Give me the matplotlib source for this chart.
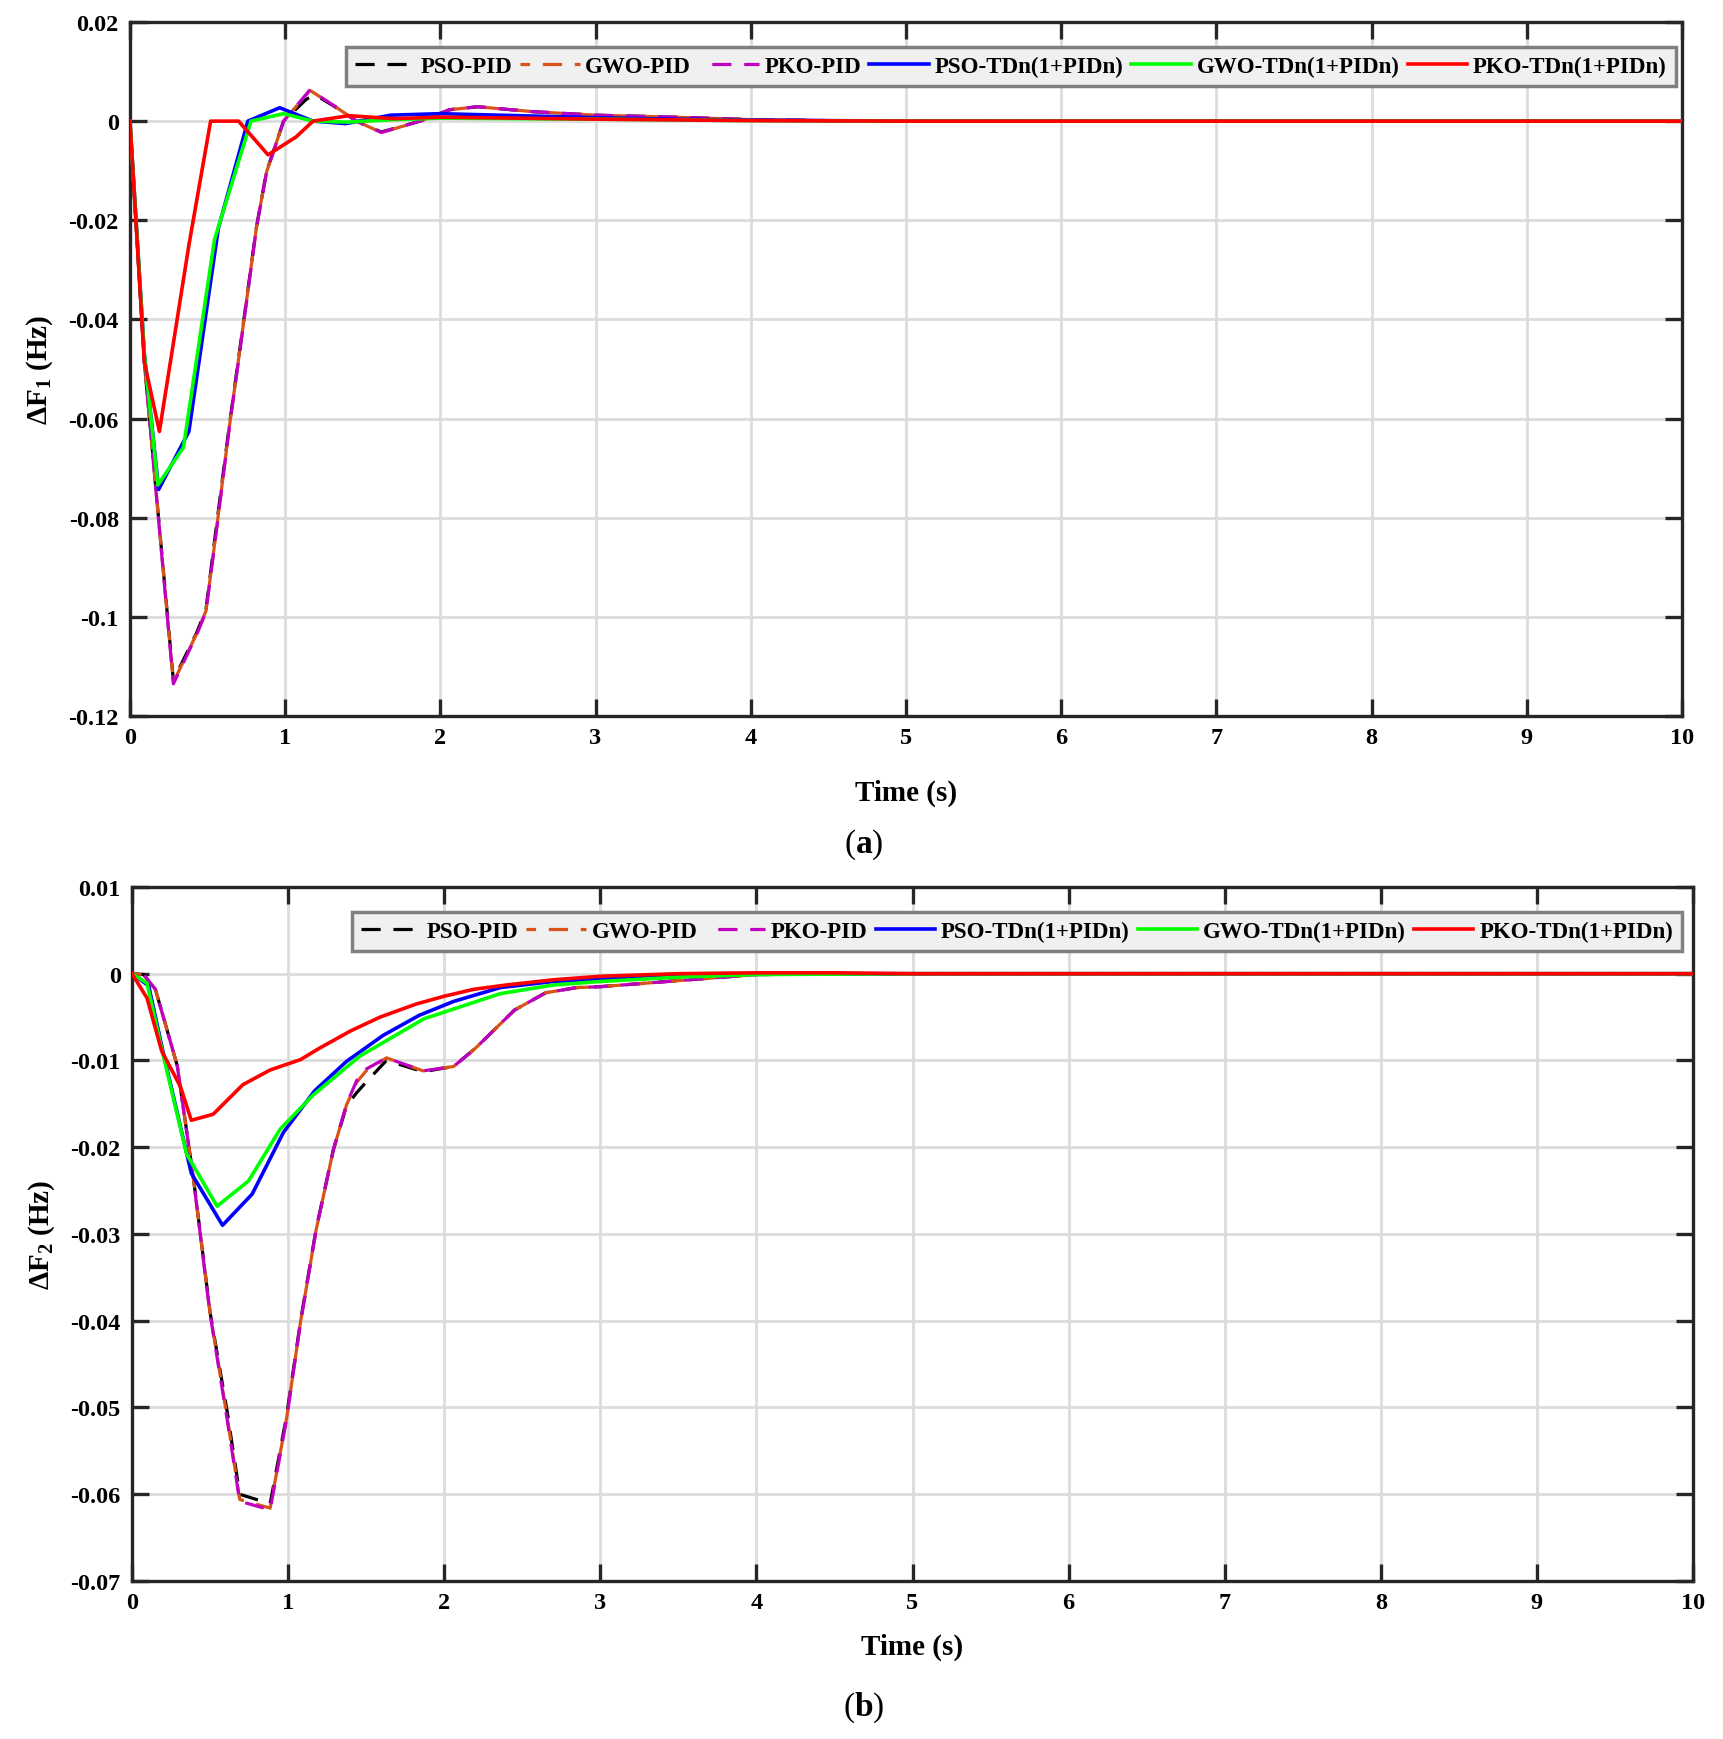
#Frequency deviation responses, two areas, PID vs TDn(1+PIDn)

import matplotlib
matplotlib.use("Agg")
import matplotlib.pyplot as plt
import numpy as np

#font setup, bold serif like the MATLAB export
plt.rcParams['font.family'] = ['Liberation Serif', 'DejaVu Serif']
plt.rcParams['font.weight'] = 'bold'
plt.rcParams['axes.unicode_minus'] = False
plt.rcParams['mathtext.fontset'] = 'custom'
plt.rcParams['mathtext.rm'] = 'Liberation Serif'
plt.rcParams['mathtext.bf'] = 'Liberation Serif:bold'

#legend names
labels = ['PSO-PID', 'GWO-PID', 'PKO-PID',
          'PSO-TDn(1+PIDn)', 'GWO-TDn(1+PIDn)', 'PKO-TDn(1+PIDn)']

#x axis
x_ticks = [0, 1, 2, 3, 4, 5, 6, 7, 8, 9, 10]

# ---------- (a) delta F1 ----------
a_yticks = [0.02, 0, -0.02, -0.04, -0.06, -0.08, -0.1, -0.12]
a_ylabels = ['0.02', '0', '-0.02', '-0.04', '-0.06', '-0.08', '-0.1', '-0.12']

a_t_pso_pid = [0, 0.093, 0.28, 0.43, 0.49, 0.556, 0.64, 0.73, 0.815, 0.88, 0.99, 1.14, 1.2, 1.31,
               1.46, 1.62, 1.87, 2.06, 2.24, 2.6, 3.0, 3.5, 4.0, 4.5, 5.0, 10]
a_pso_pid = [0, -0.0486, -0.1128, -0.1032, -0.0985, -0.082, -0.0615, -0.041, -0.0214, -0.0102, 0,
             0.0045, 0.0052, 0.0031, 0, -0.0022, 0, 0.0023, 0.0029, 0.0019, 0.0012, 0.0008,
             0.0003, 0.0001, 0, 0]
a_t_gwo_pid = [0, 0.093, 0.28, 0.43, 0.49, 0.556, 0.64, 0.73, 0.815, 0.88, 0.99, 1.16, 1.31,
               1.46, 1.62, 1.87, 2.06, 2.24, 2.6, 3.0, 3.5, 4.0, 4.5, 5.0, 10]
a_gwo_pid = [0, -0.0486, -0.1132, -0.1034, -0.0988, -0.0828, -0.0618, -0.0412, -0.0215, -0.0103, 0,
             0.0062, 0.0032, 0, -0.0023, 0, 0.0023, 0.0029, 0.0019, 0.0012, 0.0008, 0.0003,
             0.0001, 0, 0]
a_t_pko_pid = [0, 0.093, 0.28, 0.43, 0.49, 0.556, 0.64, 0.73, 0.815, 0.88, 0.99, 1.16, 1.31,
               1.46, 1.62, 1.87, 2.06, 2.24, 2.6, 3.0, 3.5, 4.0, 4.5, 5.0, 10]
a_pko_pid = [0, -0.0486, -0.1135, -0.1036, -0.099, -0.083, -0.062, -0.0414, -0.0216, -0.0104, 0,
             0.0063, 0.0032, 0, -0.0023, 0, 0.0023, 0.0029, 0.0019, 0.0012, 0.0008, 0.0003,
             0.0001, 0, 0]
a_t_pso_td = [0, 0.093, 0.185, 0.38, 0.57, 0.76, 0.965, 1.18, 1.39, 1.68, 2.0, 2.5, 3.0, 3.5,
              4.0, 5.0, 10]
a_pso_td = [0, -0.047, -0.0743, -0.0626, -0.0216, 0, 0.0027, 0, -0.0005, 0.0012, 0.0015,
            0.0011, 0.0007, 0.0004, 0.0002, 0, 0]
a_t_gwo_td = [0, 0.093, 0.18, 0.345, 0.545, 0.78, 0.99, 1.18, 1.4, 1.7, 2.0, 3.0, 4.0, 5.0, 10]
a_gwo_td = [0, -0.047, -0.0734, -0.0658, -0.0239, 0, 0.0015, 0, -0.0002, 0.0003, 0.0006,
            0.0004, 0.0001, 0, 0]
a_t_pko_td = [0, 0.093, 0.19, 0.38, 0.52, 0.70, 0.89, 1.07, 1.18, 1.41, 1.7, 2.0, 3.0, 4.0,
              5.0, 10]
a_pko_td = [0, -0.0486, -0.0626, -0.025, 0, 0, -0.0068, -0.0032, 0, 0.0011, 0.0005, 0.0008,
            0.0004, 0.0001, 0, 0]

# ---------- (b) delta F2 ----------
b_yticks = [0.01, 0, -0.01, -0.02, -0.03, -0.04, -0.05, -0.06, -0.07]
b_ylabels = ['0.01', '0', '-0.01', '-0.02', '-0.03', '-0.04', '-0.05', '-0.06', '-0.07']

b_t_pid = [0, 0.075, 0.15, 0.29, 0.394, 0.5, 0.61, 0.69, 0.885, 0.99, 1.08, 1.18, 1.29, 1.375,
           1.44, 1.5, 1.63, 1.865, 2.06, 2.2, 2.45, 2.65, 2.85, 3.0, 3.5, 4.0, 5.0, 10]
b_pso_pid = [0, -0.0001, -0.0018, -0.0106, -0.0236, -0.039, -0.0505, -0.0600, -0.0611, -0.051,
             -0.0400, -0.0294, -0.0203, -0.0152, -0.0137, -0.0125, -0.0100, -0.0113, -0.0107,
             -0.0086, -0.0042, -0.0022, -0.0016, -0.0015, -0.0008, -0.0001, 0, 0]
b_gwo_pid = [0, -0.0001, -0.0018, -0.0106, -0.0237, -0.0391, -0.0512, -0.0606, -0.0616, -0.0513,
             -0.0401, -0.0295, -0.0203, -0.0151, -0.0125, -0.0112, -0.0097, -0.0112, -0.0107,
             -0.0086, -0.0042, -0.0022, -0.0016, -0.0015, -0.0008, -0.0001, 0, 0]
b_pko_pid = [0, -0.0001, -0.0018, -0.0106, -0.0237, -0.0392, -0.0514, -0.0608, -0.0618, -0.0514,
             -0.0402, -0.0295, -0.0203, -0.015, -0.0123, -0.011, -0.0097, -0.0112, -0.0107,
             -0.0086, -0.0042, -0.0022, -0.0016, -0.0015, -0.0008, -0.0001, 0, 0]
b_t_pso_td = [0, 0.107, 0.2, 0.38, 0.58, 0.77, 0.97, 1.17, 1.375, 1.61, 1.84, 2.06, 2.36, 2.7,
              3.0, 3.5, 4.0, 5.0, 10]
b_pso_td = [0, -0.0014, -0.0091, -0.023, -0.029, -0.0254, -0.0183, -0.0135, -0.0101, -0.0071,
            -0.0048, -0.0032, -0.0016, -0.0009, -0.0006, -0.0002, 0, 0, 0]
b_t_gwo_td = [0, 0.096, 0.2, 0.35, 0.545, 0.746, 0.95, 1.16, 1.46, 1.87, 2.36, 2.7, 3.0, 3.5,
              4.0, 5.0, 10]
b_gwo_td = [0, -0.0011, -0.0094, -0.0208, -0.0268, -0.0239, -0.0179, -0.014, -0.0095, -0.0052,
            -0.0023, -0.0013, -0.0009, -0.0004, -0.0001, 0, 0]
b_t_pko_td = [0, 0.096, 0.19, 0.31, 0.38, 0.52, 0.71, 0.885, 1.08, 1.2, 1.4, 1.59, 1.82, 2.0,
              2.19, 2.4, 2.7, 3.0, 3.5, 4.0, 4.5, 5.0, 10]
b_pko_td = [0, -0.0028, -0.0089, -0.013, -0.0169, -0.0162, -0.0128, -0.0111, -0.0099, -0.0086,
            -0.0066, -0.005, -0.0035, -0.0026, -0.0018, -0.0013, -0.0007, -0.0003, 0, 0.0001,
            0.0001, 0, 0]

#colors (MATLAB-ish)
colors = ['black', '#D95319', '#C000C0', '#0000FF', '#00FF00', '#FF0000']
dash = (6, 4)
styles = [(0, dash), (3, dash), (6, dash), '-', '-', '-']
spine_col = '#262626'


def style_axes(ax, yticks, ylabels, ylim, ylabel, xpad):
    ax.set_xlim(0, 10)
    ax.set_ylim(*ylim)
    ax.set_xticks(x_ticks)
    ax.set_xticklabels([str(x) for x in x_ticks])
    ax.set_yticks(yticks)
    ax.set_yticklabels(ylabels)
    ax.grid(True, color='#DCDCDC', linewidth=2.0)
    ax.set_axisbelow(True)
    for s in ax.spines.values():
        s.set_linewidth(2.4)
        s.set_color(spine_col)
    ax.tick_params(direction='in', length=12, width=2.4, color=spine_col,
                   top=True, right=True, labelsize=17.5, pad=8)
    ax.set_xlabel('Time (s)', fontsize=21, fontweight='bold', labelpad=xpad)
    ax.set_ylabel(ylabel, fontsize=21, fontweight='bold', labelpad=10)


def draw(ax, series, anchor):
    for i, (t, y) in enumerate(series):
        lw = 2.3 if i < 3 else 2.6
        ax.plot(t, y, color=colors[i], linestyle=styles[i], linewidth=lw,
                label=labels[i], zorder=3 + i)
    leg = ax.legend(loc='upper right', bbox_to_anchor=anchor, ncol=6, fontsize=16.5,
                    fancybox=False, framealpha=1, facecolor='#F0F0F0', edgecolor='#808080',
                    borderaxespad=0, borderpad=0.4, handlelength=2.6, handletextpad=0.25,
                    columnspacing=0.35)
    leg.get_frame().set_linewidth(2.5)
    leg.set_zorder(20)


fig = plt.figure(figsize=(17.23, 17.40), dpi=100)

#top panel
ax1 = fig.add_axes([0.0754, 0.5879, 0.9008, 0.3989])
draw(ax1, [(a_t_pso_pid, a_pso_pid), (a_t_gwo_pid, a_gwo_pid), (a_t_pko_pid, a_pko_pid),
           (a_t_pso_td, a_pso_td), (a_t_gwo_td, a_gwo_td), (a_t_pko_td, a_pko_td)],
     (0.996, 0.964))
style_axes(ax1, a_yticks, a_ylabels, (-0.12, 0.02), r'ΔF$_{\mathbf{1}}$ (Hz)', 22)

#bottom panel
ax2 = fig.add_axes([0.0766, 0.0908, 0.9060, 0.3989])
draw(ax2, [(b_t_pid, b_pso_pid), (b_t_pid, b_gwo_pid), (b_t_pid, b_pko_pid),
           (b_t_pso_td, b_pso_td), (b_t_gwo_td, b_gwo_td), (b_t_pko_td, b_pko_td)],
     (0.993, 0.964))
style_axes(ax2, b_yticks, b_ylabels, (-0.07, 0.01), r'ΔF$_{\mathbf{2}}$ (Hz)', 14)

#panel captions
fig.text(0.501, 1 - 845 / 1740, r'($\mathbf{a}$)', fontsize=24, fontweight='normal',
         ha='center', va='center')
fig.text(0.501, 1 - 1708 / 1740, r'($\mathbf{b}$)', fontsize=24, fontweight='normal',
         ha='center', va='center')

fig.savefig('out.png', dpi=100)
